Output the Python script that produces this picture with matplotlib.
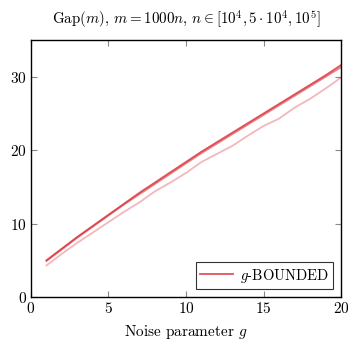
import matplotlib
matplotlib.use("Agg")
import matplotlib.pyplot as plt

plt.rcParams['font.family'] = 'serif'
plt.rcParams['font.serif'] = ['cmr10', 'DejaVu Serif']
plt.rcParams['mathtext.fontset'] = 'cm'
plt.rcParams['axes.formatter.use_mathtext'] = True

g = list(range(1, 21))
gap_n1e5 = [5.0, 6.6, 8.2, 9.7, 11.2, 12.7, 14.2, 15.6, 17.0, 18.4,
            19.8, 21.1, 22.4, 23.7, 25.0, 26.3, 27.6, 28.9, 30.2, 31.6]
gap_n5e4 = [4.9, 6.5, 8.1, 9.6, 11.1, 12.6, 14.0, 15.4, 16.8, 18.2,
            19.6, 20.9, 22.2, 23.5, 24.8, 26.1, 27.4, 28.7, 30.0, 31.3]
gap_n1e4 = [4.3, 5.9, 7.4, 8.8, 10.2, 11.6, 12.9, 14.4, 15.6, 16.9,
            18.4, 19.5, 20.6, 22.0, 23.3, 24.3, 25.8, 27.0, 28.4, 29.9]

color = '#d9363e'
fig = plt.figure(figsize=(3.48, 3.40), dpi=100)
ax = fig.add_axes([0.089, 0.1265, 0.891, 0.7555])

ax.plot(g, gap_n1e4, color=color, alpha=0.35, lw=1.3)
ax.plot(g, gap_n5e4, color=color, alpha=0.6, lw=1.3)
ax.plot(g, gap_n1e5, color=color, alpha=0.85, lw=1.3, label=r'$g$-BOUNDED')

ax.set_xlim(0, 20)
ax.set_ylim(0, 35)
ax.set_xticks([0, 5, 10, 15, 20])
ax.set_yticks([0, 10, 20, 30])
ax.tick_params(direction='in', top=True, right=True, color='#888888',
               length=4, labelsize=11, pad=3)
for s in ax.spines.values():
    s.set_linewidth(1.0)
    s.set_color('black')

ax.set_title(r'Gap$(m)$, $m = 1000n$, $n \in [10^4, 5\cdot10^4, 10^5]$',
             fontsize=10.8, pad=11)
ax.set_xlabel(r'Noise parameter $g$', fontsize=11, labelpad=5)

leg = ax.legend(loc='lower right', fontsize=10.5, frameon=True, fancybox=False,
                edgecolor='black', handlelength=2.2, borderpad=0.3,
                borderaxespad=0.55, handletextpad=0.5)
leg.get_frame().set_linewidth(0.8)

fig.savefig('out.png', dpi=100)
